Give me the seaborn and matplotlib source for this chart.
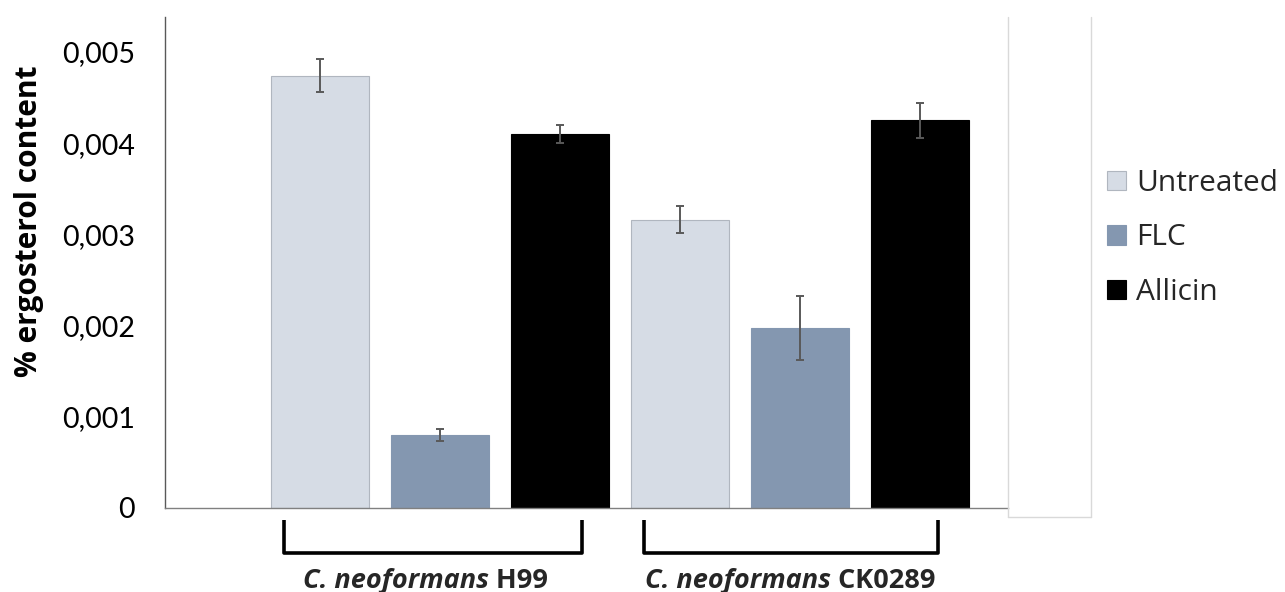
import numpy as np
import pandas as pd
import matplotlib
matplotlib.use("Agg")
import matplotlib.pyplot as plt
import seaborn as sns
from matplotlib.lines import Line2D
from matplotlib.patches import Patch
from matplotlib.colors import to_hex
from matplotlib.ticker import FuncFormatter, MultipleLocator
from matplotlib.transforms import blended_transform_factory, offset_copy

# ---- data ----
strains = ["H99", "CK0289"]
treatments = ["Untreated", "FLC", "Allicin"]
h99_means = [0.00474, 0.00080, 0.00410]
h99_err = [0.00018, 0.000065, 0.00010]
ck_means = [0.00316, 0.00197, 0.00425]
ck_err = [0.00015, 0.00035, 0.00019]
colors = ["#d6dce5", "#8497b0", "#000000"]
edges = ["#b0b6bf", "#8497b0", "#000000"]

sns.set_theme(style="white")
plt.rcParams["font.family"] = ["Lato", "DejaVu Sans"]
LAB_FONT = ["Open Sans", "DejaVu Sans"]

df = pd.DataFrame({
    "slot": [f"{s}-{t}" for s in strains for t in treatments],
    "strain": [s for s in strains for t in treatments],
    "treatment": treatments * 2,
    "value": h99_means + ck_means,
    "err": h99_err + ck_err,
})

W, H = 1285, 592
fig = plt.figure(figsize=(W / 100, H / 100), dpi=100)
ax_left, ax_right, ax_top, ax_base = 165.5, 1007.5, 17, 507.5
ax = fig.add_axes([ax_left / W, (H - ax_base) / H, (ax_right - ax_left) / W, (ax_base - ax_top) / H])

sns.barplot(data=df, x="slot", y="value", hue="treatment", order=list(df["slot"]),
            hue_order=treatments, palette=dict(zip(treatments, colors)), dodge=False,
            width=0.81, errorbar=None, saturation=1, legend=False, ax=ax)

edge_of = {to_hex(c): e for c, e in zip(colors, edges)}
for patch in ax.patches:
    patch.set_edgecolor(edge_of.get(to_hex(patch.get_facecolor()), "none"))
    patch.set_linewidth(0.8)

xpos = np.arange(len(df))
ax.errorbar(xpos, df["value"], yerr=df["err"], fmt="none", ecolor="#595959",
            elinewidth=1.4, capsize=3, capthick=1.4, zorder=5)

px_per_slot = 120
ax.set_xlim((ax_left - 320) / px_per_slot, (ax_right - 320) / px_per_slot)
ax.set_ylim(0, (ax_base - ax_top) / 91.1 * 0.001)
ax.yaxis.set_major_locator(MultipleLocator(0.001))
ax.yaxis.set_major_formatter(FuncFormatter(lambda v, p: "0" if abs(v) < 1e-12 else f"{v:.3f}".replace(".", ",")))
ax.tick_params(axis="y", length=0, pad=22, labelsize=20.5, labelcolor="#000000")
ax.tick_params(axis="x", length=0, labelbottom=False)
ax.set_xlabel("")
ax.set_ylabel("")
for s in ["top", "right"]:
    ax.spines[s].set_visible(False)
ax.spines["left"].set_color("#595959")
ax.spines["bottom"].set_color("#808080")
ax.spines["left"].set_linewidth(1.0)
ax.spines["bottom"].set_linewidth(1.0)

fig.text(29 / W, 1 - 221 / H, "% ergosterol content", rotation=90, ha="center", va="center",
         fontsize=21.5, fontweight="bold", color="#000000", family=LAB_FONT)

# plot-area border pieces on the right
lc = "#d9d9d9"
fig.add_artist(Line2D([1007.5 / W, 1007.5 / W], [1 - 17 / H, 1 - 517 / H], color=lc, lw=1))
fig.add_artist(Line2D([1091 / W, 1091 / W], [1 - 17 / H, 1 - 517 / H], color=lc, lw=1))
fig.add_artist(Line2D([1007.5 / W, 1091 / W], [1 - 517 / H, 1 - 517 / H], color=lc, lw=1))

# legend
handles = [Patch(facecolor=c, edgecolor=e, linewidth=0.8) for c, e in zip(colors, edges)]
fig.legend(handles, treatments, loc="center left", bbox_to_anchor=(1107.3 / W, 1 - 238 / H),
           frameon=False, prop={"family": LAB_FONT, "size": 21.5}, handlelength=0.64, handleheight=0.64,
           handletextpad=0.33, labelspacing=0.85, borderpad=0, borderaxespad=0)

# group brackets and labels
tr = blended_transform_factory(ax.transData, ax.transAxes)
ah = ax_base - ax_top
y_top = -(519.5 - ax_base) / ah
y_bot = -(552.5 - ax_base) / ah
groups = [(xpos[0] - 0.3, xpos[2] + 0.18), (xpos[3] - 0.3, xpos[5] + 0.15)]
for (x0, x1) in groups:
    ax.plot([x0, x0, x1, x1], [y_top, y_bot, y_bot, y_top], transform=tr, color="black",
            lw=2.6, clip_on=False, solid_joinstyle="round", solid_capstyle="butt")

fig.canvas.draw()
renderer = fig.canvas.get_renderer()
y_lab = -(588 - ax_base) / ah
centers = [xpos[0] + (425.7 - 320) / px_per_slot, xpos[3] + (790 - 680) / px_per_slot]
for strain, cx in zip(strains, centers):
    t1 = ax.text(cx, y_lab, "C. neoformans", transform=tr, fontsize=19.5, fontweight="bold",
                 fontstyle="italic", ha="left", va="baseline", clip_on=False, family=LAB_FONT)
    t2 = ax.text(cx, y_lab, " " + strain, transform=tr, fontsize=19.5, fontweight="bold",
                 ha="left", va="baseline", clip_on=False, family=LAB_FONT)
    w1 = t1.get_window_extent(renderer).width
    w2 = t2.get_window_extent(renderer).width
    total = w1 + w2
    t1.set_transform(offset_copy(tr, fig=fig, x=-total / 2, y=0, units="dots"))
    t2.set_transform(offset_copy(tr, fig=fig, x=-total / 2 + w1, y=0, units="dots"))

fig.savefig("out.png", dpi=100)
